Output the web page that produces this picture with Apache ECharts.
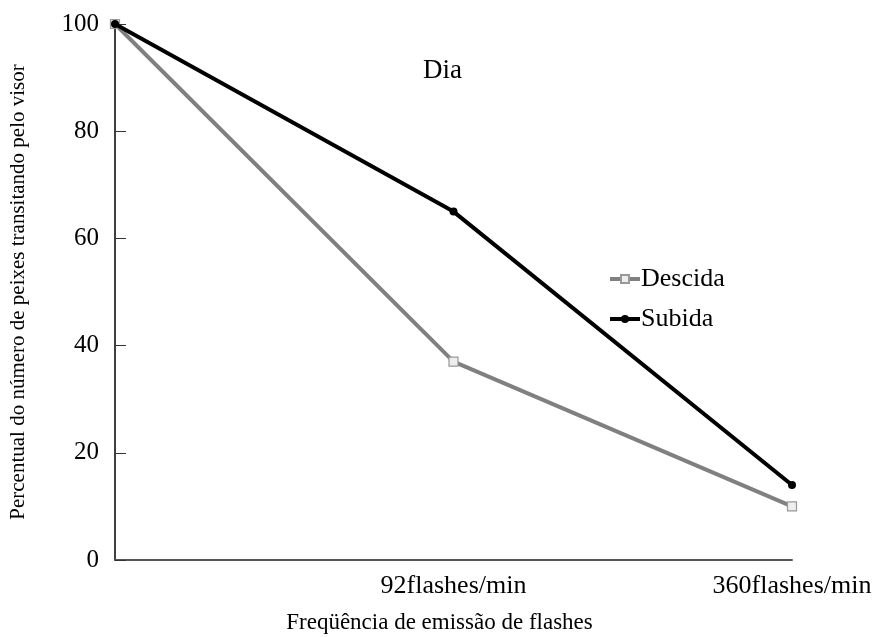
<!DOCTYPE html>
<html>
<head>
<meta charset="utf-8">
<script src="https://cdn.jsdelivr.net/npm/echarts@6/dist/echarts.min.js"></script>
<style>
    html, body { margin: 0; padding: 0; background: #fff; }
    #chart { width: 875px; height: 637px; }
</style>
</head>
<body>
<div id="chart"></div>
<script>
    // 频率类别 (第一个点无标签)
    const categories = ['', '92flashes/min', '360flashes/min'];
    const descida = [100, 37, 10];
    const subida = [100, 65, 14];
    const yTicks = [0, 20, 40, 60, 80, 100];

    const font = 'Liberation Serif, Times New Roman, serif';
    const chart = echarts.init(document.getElementById('chart'));

    chart.setOption({
        animation: false,
        textStyle: { fontFamily: font },
        title: {
            text: 'Dia',
            left: 418,
            top: 52,
            textStyle: { fontFamily: font, fontSize: 27, fontWeight: 'normal', color: '#000' }
        },
        legend: {
            orient: 'vertical',
            left: 603,
            top: 261,
            itemWidth: 30,
            itemHeight: 10,
            itemGap: 14,
            textStyle: { fontFamily: font, fontSize: 26, color: '#000', padding: [0, 0, 0, -4] },
            lineStyle: { width: 4 },
            data: ['Descida', 'Subida']
        },
        grid: {
            left: 115,
            right: 83,
            top: 24,
            bottom: 77,
            containLabel: false,
            outerBoundsMode: 'none'
        },
        xAxis: {
            type: 'category',
            data: categories,
            boundaryGap: false,
            name: 'Freqüência de emissão de flashes',
            nameLocation: 'middle',
            nameGap: 51,
            nameTextStyle: { fontFamily: font, fontSize: 23, color: '#000', padding: [0, 28, 0, 0] },
            axisLine: { lineStyle: { color: '#555', width: 2 } },
            axisTick: { show: false },
            axisLabel: { fontFamily: font, fontSize: 26, color: '#000', margin: 13 }
        },
        yAxis: {
            type: 'value',
            min: yTicks[0],
            max: yTicks[yTicks.length - 1],
            interval: 20,
            name: 'Percentual do número de peixes transitando pelo visor',
            nameLocation: 'middle',
            nameGap: 86,
            nameTextStyle: { fontFamily: font, fontSize: 21, color: '#000' },
            splitLine: { show: false },
            axisLine: { show: true, lineStyle: { color: '#000', width: 1.5 } },
            axisTick: { show: true, inside: true, length: 11, lineStyle: { color: '#333', width: 1 } },
            axisLabel: { fontFamily: font, fontSize: 25, color: '#000', margin: 16 }
        },
        series: [
            {
                name: 'Descida',
                type: 'line',
                data: descida,
                symbol: 'rect',
                symbolSize: 9,
                showAllSymbol: true,
                lineStyle: { color: '#808080', width: 4 },
                itemStyle: { color: '#eeeeee', borderColor: '#999', borderWidth: 1.2 },
                z: 2
            },
            {
                name: 'Subida',
                type: 'line',
                data: subida,
                symbol: 'circle',
                symbolSize: 8,
                showAllSymbol: true,
                lineStyle: { color: '#000', width: 4 },
                itemStyle: { color: '#000' },
                z: 3
            }
        ]
    });
</script>
</body>
</html>
